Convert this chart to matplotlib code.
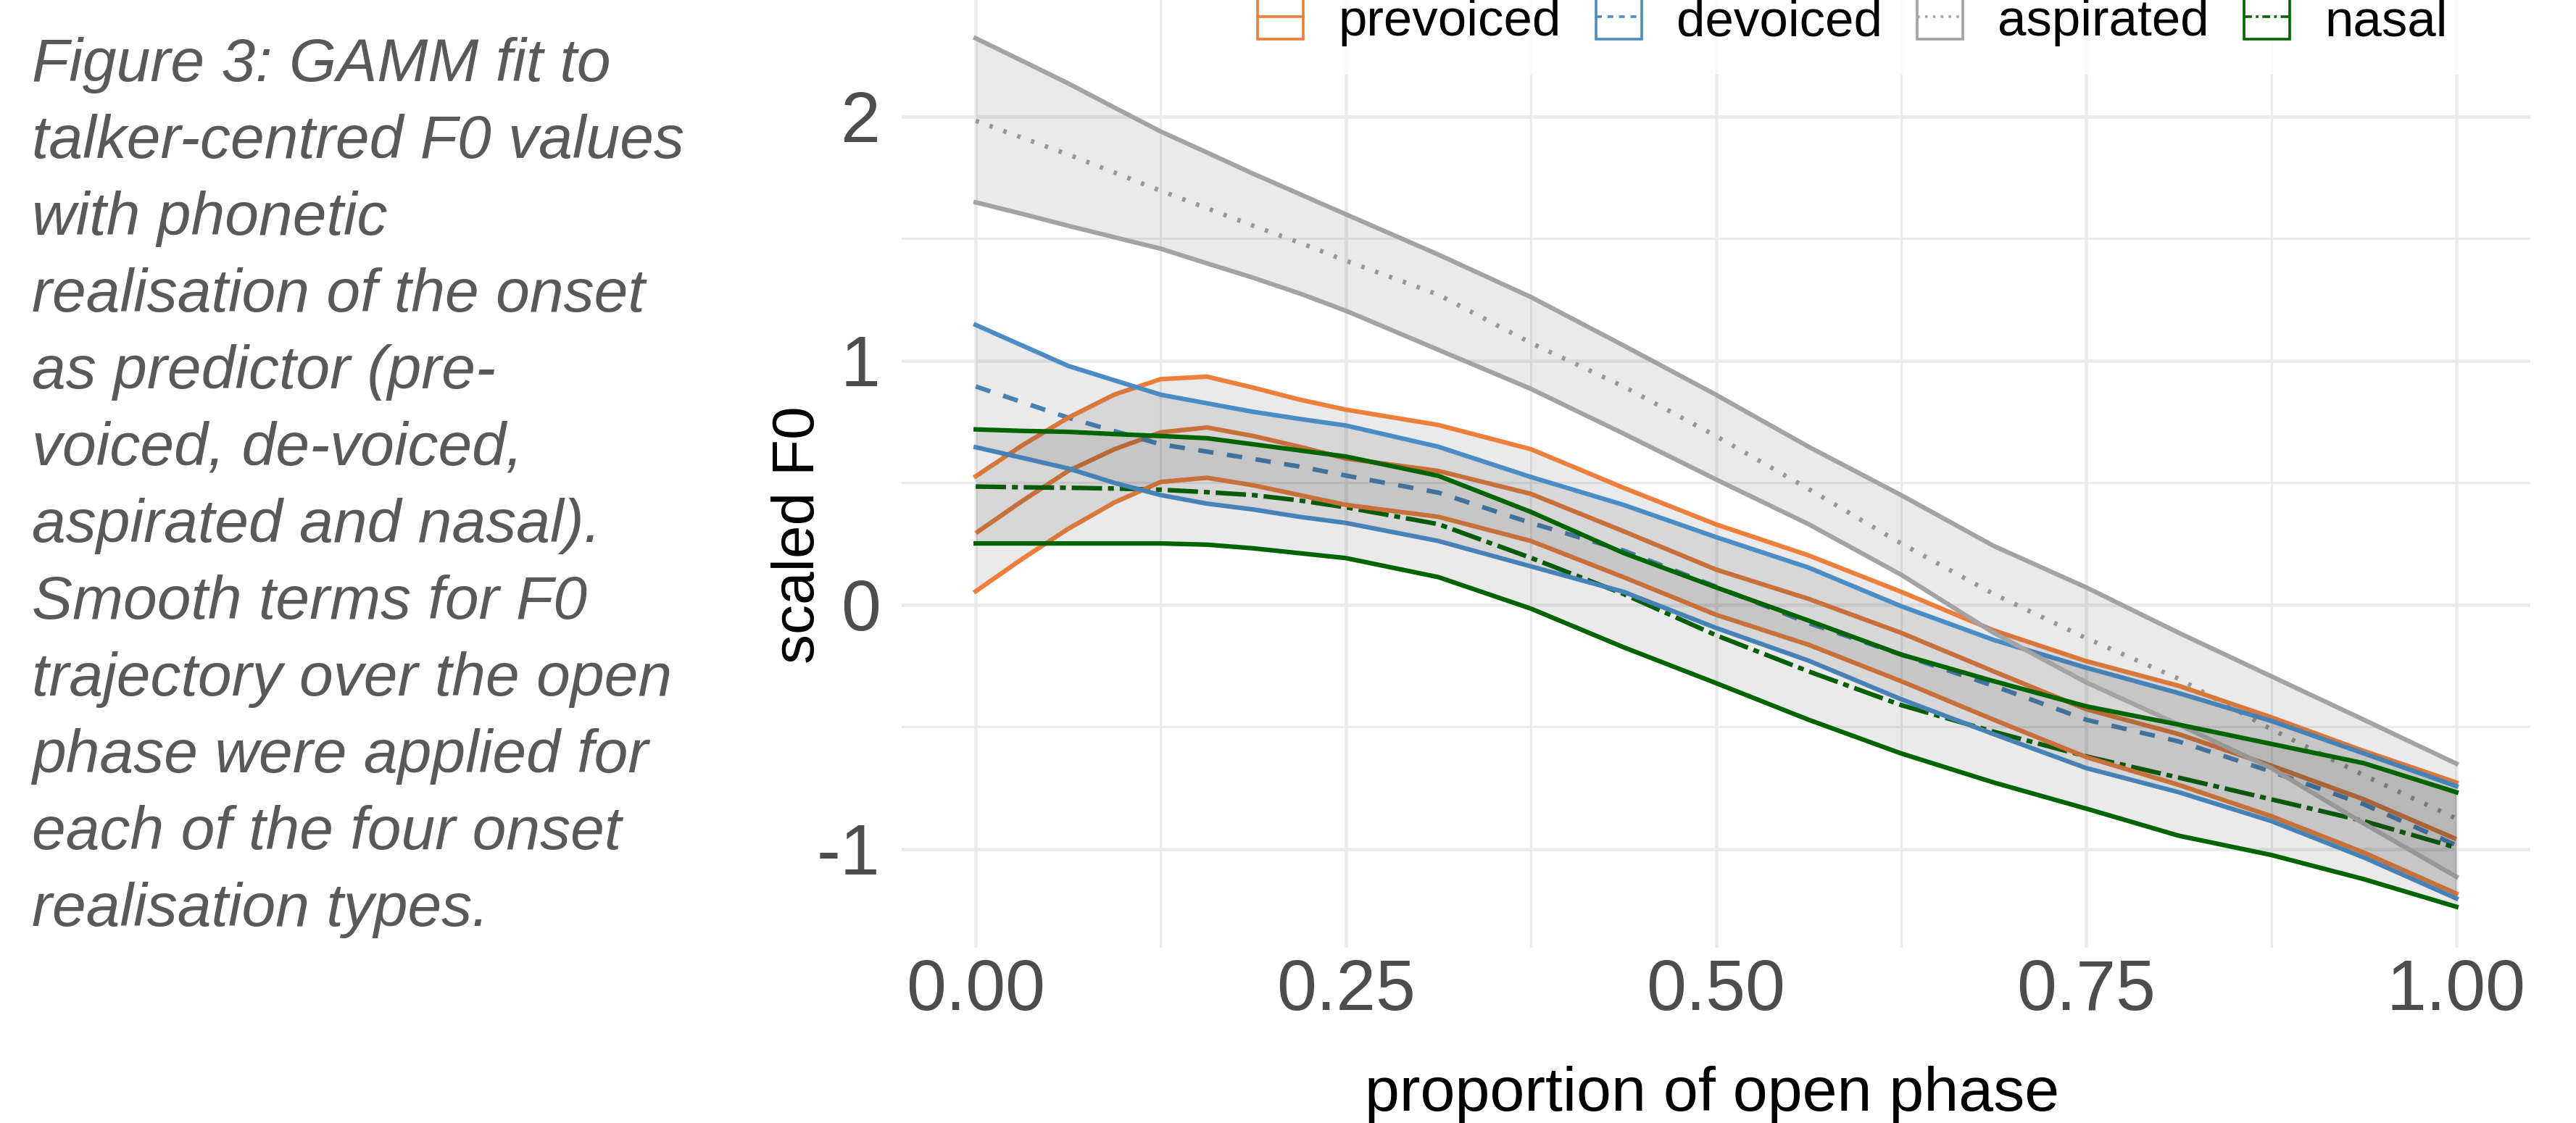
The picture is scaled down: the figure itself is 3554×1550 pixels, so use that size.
import numpy as np
import matplotlib.pyplot as plt
from matplotlib.patches import Patch
from matplotlib.lines import Line2D
from matplotlib.legend_handler import HandlerTuple

plt.rcParams['font.family'] = ['Liberation Sans', 'DejaVu Sans']

prop = [0, 0.03125, 0.0625, 0.09375, 0.125, 0.15625, 0.1875, 0.21875, 0.25,
        0.3125, 0.375, 0.4375, 0.5, 0.5625, 0.625, 0.6875, 0.75,
        0.8125, 0.875, 0.9375, 1.0]

# GAMM fits and confidence bands (scaled F0)
prevoiced_fit = [0.294, 0.425, 0.549, 0.638, 0.707, 0.727, 0.692, 0.648, 0.600,
                 0.549, 0.455, 0.302, 0.145, 0.025, -0.114, -0.272, -0.427,
                 -0.529, -0.658, -0.796, -0.959]
prevoiced_lo = [0.056, 0.188, 0.312, 0.420, 0.504, 0.521, 0.490, 0.450, 0.410,
                0.361, 0.262, 0.114, -0.040, -0.163, -0.312, -0.470, -0.623,
                -0.737, -0.865, -1.014, -1.182]
prevoiced_hi = [0.527, 0.653, 0.767, 0.862, 0.925, 0.935, 0.890, 0.841, 0.800,
                0.737, 0.638, 0.480, 0.330, 0.203, 0.054, -0.104, -0.230,
                -0.331, -0.460, -0.598, -0.727]

devoiced_fit = [0.895, 0.831, 0.767, 0.712, 0.658, 0.628, 0.598, 0.567, 0.530,
                0.460, 0.336, 0.223, 0.075, -0.074, -0.203, -0.331, -0.470,
                -0.559, -0.682, -0.816, -0.984]
devoiced_lo = [0.646, 0.603, 0.559, 0.500, 0.450, 0.415, 0.391, 0.361, 0.336,
               0.262, 0.158, 0.054, -0.094, -0.228, -0.386, -0.529, -0.668,
               -0.767, -0.885, -1.034, -1.202]
devoiced_hi = [1.147, 1.063, 0.979, 0.920, 0.861, 0.826, 0.791, 0.762, 0.735,
               0.648, 0.524, 0.410, 0.278, 0.153, -0.005, -0.143, -0.257,
               -0.361, -0.475, -0.608, -0.742]

aspirated_fit = [1.983, 1.914, 1.845, 1.771, 1.696, 1.625, 1.553, 1.484, 1.410,
                 1.271, 1.073, 0.895, 0.692, 0.475, 0.252, 0.045, -0.136,
                 -0.302, -0.509, -0.697, -0.875]
aspirated_lo = [1.649, 1.602, 1.553, 1.506, 1.459, 1.399, 1.340, 1.276, 1.205,
                1.045, 0.885, 0.702, 0.514, 0.331, 0.124, -0.114, -0.317,
                -0.490, -0.668, -0.895, -1.113]
aspirated_hi = [2.321, 2.229, 2.136, 2.037, 1.939, 1.853, 1.766, 1.683, 1.600,
                1.435, 1.261, 1.063, 0.861, 0.648, 0.450, 0.242, 0.072,
                -0.114, -0.292, -0.470, -0.650]

nasal_fit = [0.485, 0.482, 0.480, 0.477, 0.472, 0.462, 0.450, 0.428, 0.400,
             0.331, 0.193, 0.045, -0.124, -0.272, -0.410, -0.519, -0.620,
             -0.707, -0.796, -0.885, -0.994]
nasal_lo = [0.252, 0.252, 0.252, 0.252, 0.252, 0.247, 0.232, 0.212, 0.192,
            0.114, -0.015, -0.173, -0.320, -0.470, -0.608, -0.727, -0.834,
            -0.945, -1.024, -1.123, -1.236]
nasal_hi = [0.719, 0.713, 0.709, 0.700, 0.692, 0.683, 0.658, 0.633, 0.608,
            0.529, 0.381, 0.213, 0.072, -0.064, -0.203, -0.312, -0.415,
            -0.490, -0.569, -0.648, -0.767]

onset_types = ['prevoiced', 'devoiced', 'aspirated', 'nasal']

x_ticks = [0, 0.25, 0.5, 0.75, 1.0]
x_ticklabels = ['0.00', '0.25', '0.50', '0.75', '1.00']
y_ticks = [-1, 0, 1, 2]
y_ticklabels = ['-1', '0', '1', '2']

caption_lines = [
    'Figure 3: GAMM fit to',
    'talker-centred F0 values',
    'with phonetic',
    'realisation of the onset',
    'as predictor (pre-',
    'voiced, de-voiced,',
    'aspirated and nasal).',
    'Smooth terms for F0',
    'trajectory over the open',
    'phase were applied for',
    'each of the four onset',
    'realisation types.',
]

colors = {'prevoiced': '#ED7F3B', 'devoiced': '#4A8CC6',
          'aspirated': '#A3A3A3', 'nasal': '#006400'}
styles = {'prevoiced': '-', 'devoiced': (0, (3.4, 3.0)),
          'aspirated': (0, (0.75, 2.5)), 'nasal': (0, (6.7, 1.3, 1.3, 1.3))}
key_styles = {'prevoiced': '-', 'devoiced': (0, (2.2, 2.2)),
              'aspirated': (0, (1, 2)), 'nasal': (0, (3, 1.5, 1, 1.5))}

fits = {'prevoiced': prevoiced_fit, 'devoiced': devoiced_fit,
        'aspirated': aspirated_fit, 'nasal': nasal_fit}
los = {'prevoiced': prevoiced_lo, 'devoiced': devoiced_lo,
       'aspirated': aspirated_lo, 'nasal': nasal_lo}
his = {'prevoiced': prevoiced_hi, 'devoiced': devoiced_hi,
       'aspirated': aspirated_hi, 'nasal': nasal_hi}

W, H = 3554, 1550
lw = 4.5
fig = plt.figure(figsize=(W / 100, H / 100), dpi=100)
ax = fig.add_axes([1244 / W, 1 - 1308 / H, (3491 - 1244) / W, 1308 / H])

# mean curves first, ribbons drawn over them (as in the original)
for g in onset_types:
    ax.plot(prop, fits[g], color=colors[g], ls=styles[g], lw=lw, zorder=2,
            solid_capstyle='butt', dash_capstyle='butt', solid_joinstyle='round')
for g in onset_types:
    ax.fill_between(prop, los[g], his[g], color='#333333', alpha=0.1, lw=0, zorder=3)
    ax.plot(prop, los[g], color=colors[g], lw=lw, zorder=3, solid_joinstyle='round')
    ax.plot(prop, his[g], color=colors[g], lw=lw, zorder=3, solid_joinstyle='round')

ax.set_xlim(-0.05, 1.05)
ax.set_ylim(-1.4036, 835 / 337)
ax.set_xticks(x_ticks)
ax.set_xticklabels(x_ticklabels)
ax.set_xticks([0.125, 0.375, 0.625, 0.875], minor=True)
ax.set_yticks(y_ticks)
ax.set_yticklabels(y_ticklabels)
ax.set_yticks([-0.5, 0.5, 1.5], minor=True)
ax.set_axisbelow(True)
ax.grid(which='major', color='#EBEBEB', lw=3.3)
ax.grid(which='minor', color='#EBEBEB', lw=2.2)
ax.tick_params(which='both', length=0)
ax.tick_params(axis='x', labelsize=71, labelcolor='#4D4D4D', pad=11)
ax.tick_params(axis='y', labelsize=71, labelcolor='#4D4D4D', pad=21)
for s in ax.spines.values():
    s.set_visible(False)

fig.text(2362 / W, 1 - 1533 / H, 'proportion of open phase', fontsize=62,
         ha='center', va='baseline', color='black')
fig.text(1102 / W, 1 - 738 / H, 'scaled F0', fontsize=59, rotation=90,
         ha='center', va='center', color='black')

# caption on the left
for i, line in enumerate(caption_lines):
    fig.text(44 / W, 1 - (112 + 106 * i) / H, line, fontsize=60.5,
             style='italic', color='#595959', ha='left', va='baseline')

# legend across the top
handles = []
for g in onset_types:
    box = Patch(facecolor='white', edgecolor=colors[g], linewidth=2.6)
    ln = Line2D([], [], color=colors[g], ls=key_styles[g], lw=2.6)
    handles.append((box, ln))
leg = fig.legend(handles, onset_types, handler_map={tuple: HandlerTuple(ndivide=1)},
                 loc='center', bbox_to_anchor=(2556 / W, 1 - 30 / H), ncol=4,
                 fontsize=51, frameon=True, fancybox=False, borderpad=0.55,
                 handlelength=0.89, handleheight=0.89, handletextpad=0.68,
                 columnspacing=0.68, borderaxespad=0)
leg.get_frame().set_facecolor('white')
leg.get_frame().set_edgecolor('none')

fig.savefig('out.png', dpi=100)
